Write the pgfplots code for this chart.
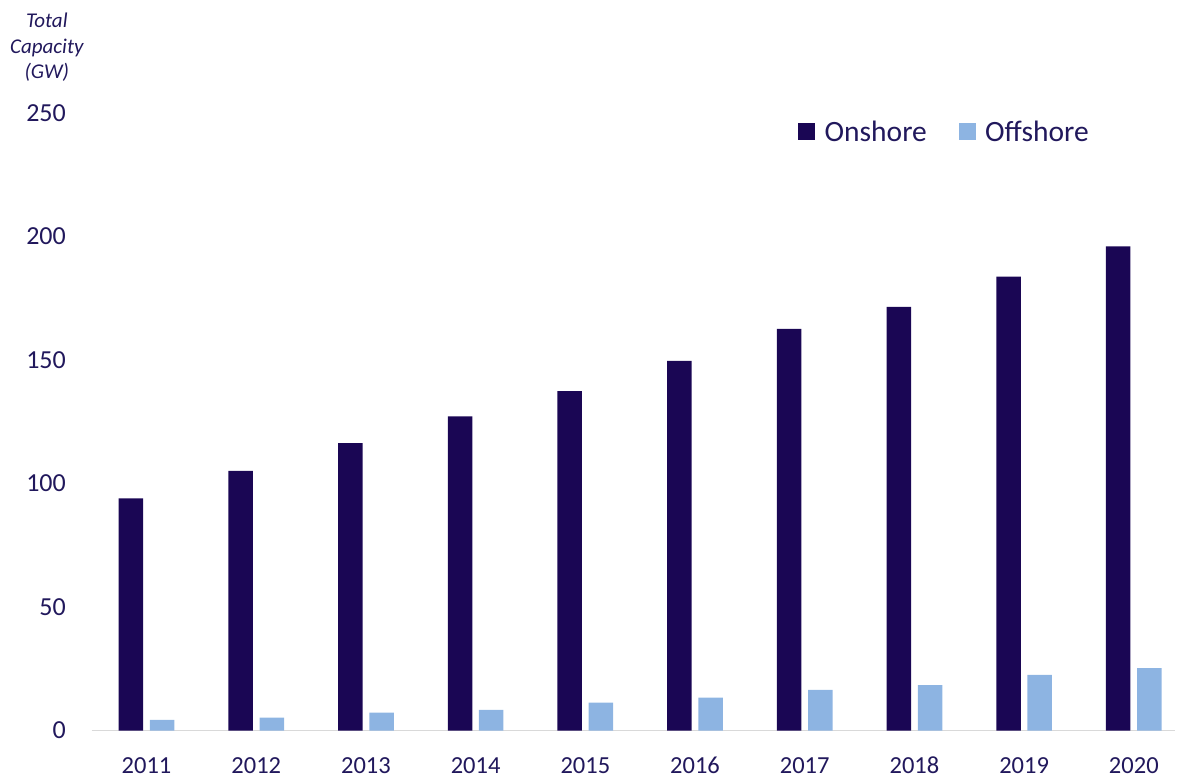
\documentclass[border=0pt]{standalone}
\usepackage{fontspec}
\setmainfont{Carlito}
\usepackage{pgfplots}
\pgfplotsset{compat=1.18}

\definecolor{onshore}{RGB}{26,6,84}
\definecolor{offshore}{RGB}{141,180,226}
\definecolor{txt}{RGB}{33,24,92}
\definecolor{baseline}{RGB}{217,217,217}

\begin{document}
\begin{tikzpicture}
\useasboundingbox (0,0) rectangle (1185bp,779bp);
\begin{axis}[
  at={(91.7bp,48.5bp)}, anchor=south west,
  scale only axis, width=1083.3bp, height=617.5bp,
  xmin=-0.5, xmax=9.376, ymin=0, ymax=250,
  ybar, bar width=24.5bp,
  axis x line*=bottom, axis y line*=left,
  x axis line style={draw=baseline, line width=1.2bp, -},
  y axis line style={draw=none},
  major tick length=0pt,
  xtick={0,...,9},
  xticklabels={2011,2012,2013,2014,2015,2016,2017,2018,2019,2020},
  ytick={0,50,...,250},
  /pgf/number format/assume math mode=true,
  ticklabel style={text=txt, inner sep=0pt},
  xticklabel style={anchor=north, yshift=-26.5bp,
    font=\fontsize{24.5bp}{28bp}\selectfont},
  yticklabel style={anchor=east, xshift=-25.7bp,
    font=\fontsize{26bp}{30bp}\selectfont},
  legend columns=2,
  legend style={at={(0.6523,0.9697)}, anchor=west, draw=none, fill=none,
    inner sep=0pt, outer sep=0pt,
    font=\fontsize{29.5bp}{34bp}\selectfont, text=txt,
    nodes={inner sep=0pt},
    /tikz/every even column/.append style={column sep=32bp}},
  legend image code/.code={\fill[#1] (0bp,-8.5bp) rectangle (17bp,8.5bp);
    \path (26.3bp,0bp);},
  clip=false,
]
\addplot[draw=none, fill=onshore, bar shift=-15.6bp] coordinates {
  (0,94.0) (1,105.1) (2,116.3) (3,127.2) (4,137.4)
  (5,149.6) (6,162.6) (7,171.5) (8,183.8) (9,196.0)};
\addlegendentry{Onshore}
\addplot[draw=none, fill=offshore, bar shift=15.6bp] coordinates {
  (0,4.3) (1,5.2) (2,7.2) (3,8.3) (4,11.3)
  (5,13.3) (6,16.4) (7,18.4) (8,22.5) (9,25.3)};
\addlegendentry{Offshore}

\node[align=center, inner sep=0pt, text=txt,
  font=\fontsize{21bp}{25.5bp}\selectfont\itshape]
  at (axis description cs:-0.04145,1.1061) {Total\\Capacity\\(GW)};
\end{axis}
\end{tikzpicture}
\end{document}
